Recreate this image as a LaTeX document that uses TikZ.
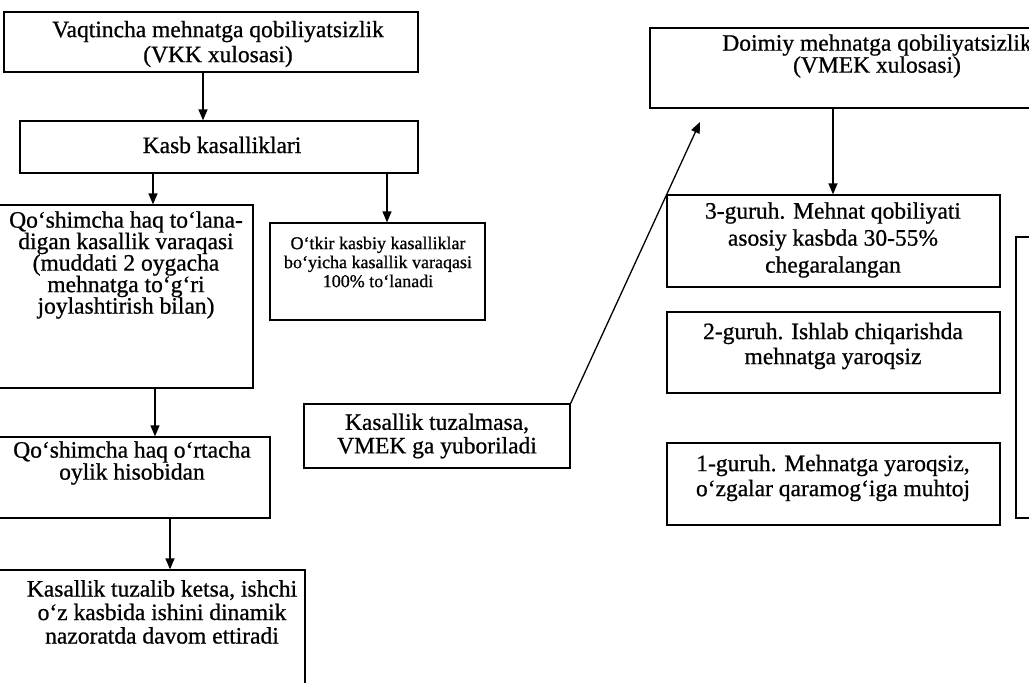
\documentclass[tikz,border=0pt]{standalone}
\usepackage{fontspec}
\setmainfont{Liberation Serif}[FakeBold=0.8]
\usetikzlibrary{arrows.meta,fit}
\tikzset{
  box/.style={draw, line width=1.3pt, inner sep=0pt},
  txt/.style={align=center, inner sep=0pt, font=\fontsize{23.5}{#1}\selectfont},
  txt/.default=22,
  smalltxt/.style={align=center, inner sep=0pt, font=\fontsize{18}{19}\selectfont},
  arr/.style={line width=1.3pt, -{Triangle[length=11pt,width=9pt]}},
}
\begin{document}
\begin{tikzpicture}[x=1pt,y=-1pt]
\useasboundingbox (0,0) rectangle (1029,683);
\clip (0,0) rectangle (1029,683);

% left column
\node[box, fit={(4,12) (418,72)}] (vkk) {};
\node[txt=25] (vkkT) at (218,44) {Vaqtincha mehnatga qobiliyatsizlik\\(VKK xulosasi)};

\node[box, fit={(20,121) (418,173)}] (kasb) {};
\node[txt] (kasbT) at (222,145) {Kasb kasalliklari};

\node[box, fit={(-10,205) (253,388)}] (qosh) {};
\node[txt=21.5] (qoshT) at (126,265) {Qo‘shimcha haq to‘lana-\\digan kasallik varaqasi\\(muddati 2 oygacha\\mehnatga to‘g‘ri\\joylashtirish bilan)};

\node[box, fit={(270,223) (485,320)}] (otkir) {};
\node[smalltxt] (otkirT) at (378,262) {O‘tkir kasbiy kasalliklar\\bo‘yicha kasallik varaqasi\\100\% to‘lanadi};

\node[box, fit={(-10,437) (270,518)}] (ortacha) {};
\node[txt] (ortachaT) at (132,463) {Qo‘shimcha haq o‘rtacha\\oylik hisobidan};

\node[box, fit={(-10,570) (305,700)}] (tuzalib) {};
\node[txt=23.5] (tuzalibT) at (162,612) {Kasallik tuzalib ketsa, ishchi\\o‘z kasbida ishini dinamik\\nazoratda davom ettiradi};

\node[box, fit={(304,404) (570,468)}] (tuzalmasa) {};
\node[txt=23.5] (tuzalmasaT) at (437,436) {Kasallik tuzalmasa,\\VMEK ga yuboriladi};

% right column
\node[box, fit={(650,28) (1110,108)}] (doimiy) {};
\node[txt] (doimiyT) at (877,56) {Doimiy mehnatga qobiliyatsizlik\\(VMEK xulosasi)};

\node[box, fit={(667,195) (1000,287)}] (g3) {};
\node[txt=27] (g3T) at (833,240) {3-guruh. Mehnat qobiliyati\\asosiy kasbda 30-55\%\\chegaralangan};

\node[box, fit={(667,312) (1000,393)}] (g2) {};
\node[txt=25] (g2T) at (833,346) {2-guruh. Ishlab chiqarishda\\mehnatga yaroqsiz};

\node[box, fit={(667,443) (1000,525)}] (g1) {};
\node[txt=25] (g1T) at (833,478) {1-guruh. Mehnatga yaroqsiz,\\o‘zgalar qaramog‘iga muhtoj};

\node[box, fit={(1016,237) (1050,518)}] (rbox) {};

% arrows
\coordinate (xa) at (203,0);
\coordinate (xb) at (153,0);
\coordinate (xc) at (387,0);
\coordinate (xd) at (155,0);
\coordinate (xe) at (170,0);
\coordinate (xf) at (833,0);
\coordinate (tip) at (700,122);

\draw[arr] (vkk.south -| xa) -- (kasb.north -| xa);
\draw[arr] (kasb.south -| xb) -- (qosh.north -| xb);
\draw[arr] (kasb.south -| xc) -- (otkir.north -| xc);
\draw[arr] (qosh.south -| xd) -- (ortacha.north -| xd);
\draw[arr] (ortacha.south -| xe) -- (tuzalib.north -| xe);
\draw[arr] (tuzalmasa.north east) -- (tip);
\draw[arr] (doimiy.south -| xf) -- (g3.north -| xf);
\end{tikzpicture}
\end{document}
